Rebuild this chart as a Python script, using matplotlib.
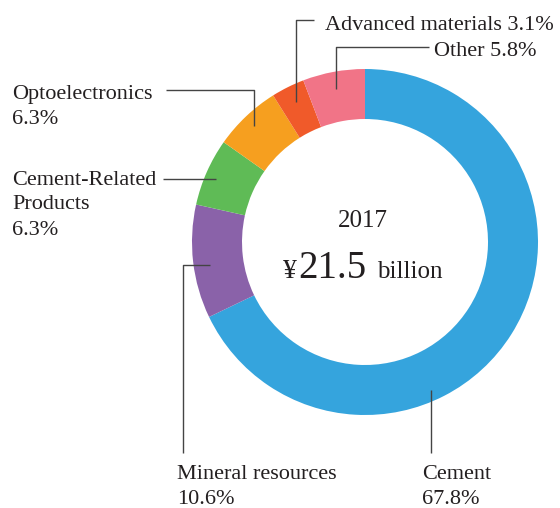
import matplotlib
matplotlib.use("Agg")
import matplotlib.pyplot as plt

# Sales composition, fiscal 2017
segments = ["Cement", "Mineral resources", "Cement-Related Products",
            "Optoelectronics", "Advanced materials", "Other"]
shares = [67.8, 10.6, 6.3, 6.3, 3.1, 5.8]
colors = ["#35A4DD", "#8A62A9", "#5FBB56", "#F69F1F", "#F05A2A", "#F17487"]
year = "2017"
total = "21.5"

W, H = 560, 508
TXT = "#231F20"
LINE = "#444444"
FONT = "Liberation Serif"

fig = plt.figure(figsize=(W / 100, H / 100), dpi=100)
ax = fig.add_axes([0, 0, 1, 1])
ax.set_xlim(0, W)
ax.set_ylim(0, H)
ax.set_aspect("equal")
ax.axis("off")


def Y(y):
    # page coordinates measured from the top edge
    return H - y


cx, cy, r_out, ring = 365, 242, 173, 50
ax.pie(shares, colors=colors, startangle=90, counterclock=False,
       radius=r_out, center=(cx, Y(cy)),
       wedgeprops=dict(width=ring, linewidth=0), frame=True)
ax.set_xlim(0, W)
ax.set_ylim(0, H)
ax.axis("off")


def leader(xs, ys):
    ax.plot(xs, [Y(v) for v in ys], color=LINE, lw=1.0,
            solid_capstyle="butt", zorder=3)


def label(x, y, s, size=16):
    ax.text(x, Y(y), s, fontsize=size, family=FONT, color=TXT,
            ha="left", va="baseline")


# Advanced materials
leader([314, 296, 296], [19.5, 19.5, 102])
label(325, 30, f"{segments[4]} {shares[4]}%")
# Other
leader([429, 336, 336], [47, 47, 89])
label(434, 56, f"{segments[5]} {shares[5]}%")
# Optoelectronics
leader([166, 254, 254], [89.5, 89.5, 126])
label(12, 99, segments[3])
label(12, 124, f"{shares[3]}%")
# Cement-Related Products
leader([163, 216], [178.5, 178.5])
label(12, 185, "Cement-Related")
label(12, 209, "Products")
label(12, 235, f"{shares[2]}%")
# Mineral resources
leader([210, 183, 183], [265, 265, 453])
label(177, 479, segments[1])
label(177, 504, f"{shares[1]}%")
# Cement
leader([431, 431], [390, 453])
label(422, 479, segments[0])
label(422, 504, f"{shares[0]}%")

# Centre caption
ax.text(363, Y(227), year, fontsize=18, family=FONT, color=TXT,
        ha="center", va="baseline")
ax.text(297, Y(278), "¥", fontsize=20, family=FONT, color=TXT,
        ha="right", va="baseline")
ax.text(298, Y(278), total, fontsize=28, family=FONT, color=TXT,
        ha="left", va="baseline")
ax.text(377, Y(278), "billion", fontsize=18, family=FONT, color=TXT,
        ha="left", va="baseline")

fig.savefig("out.png", dpi=100, facecolor="white")
